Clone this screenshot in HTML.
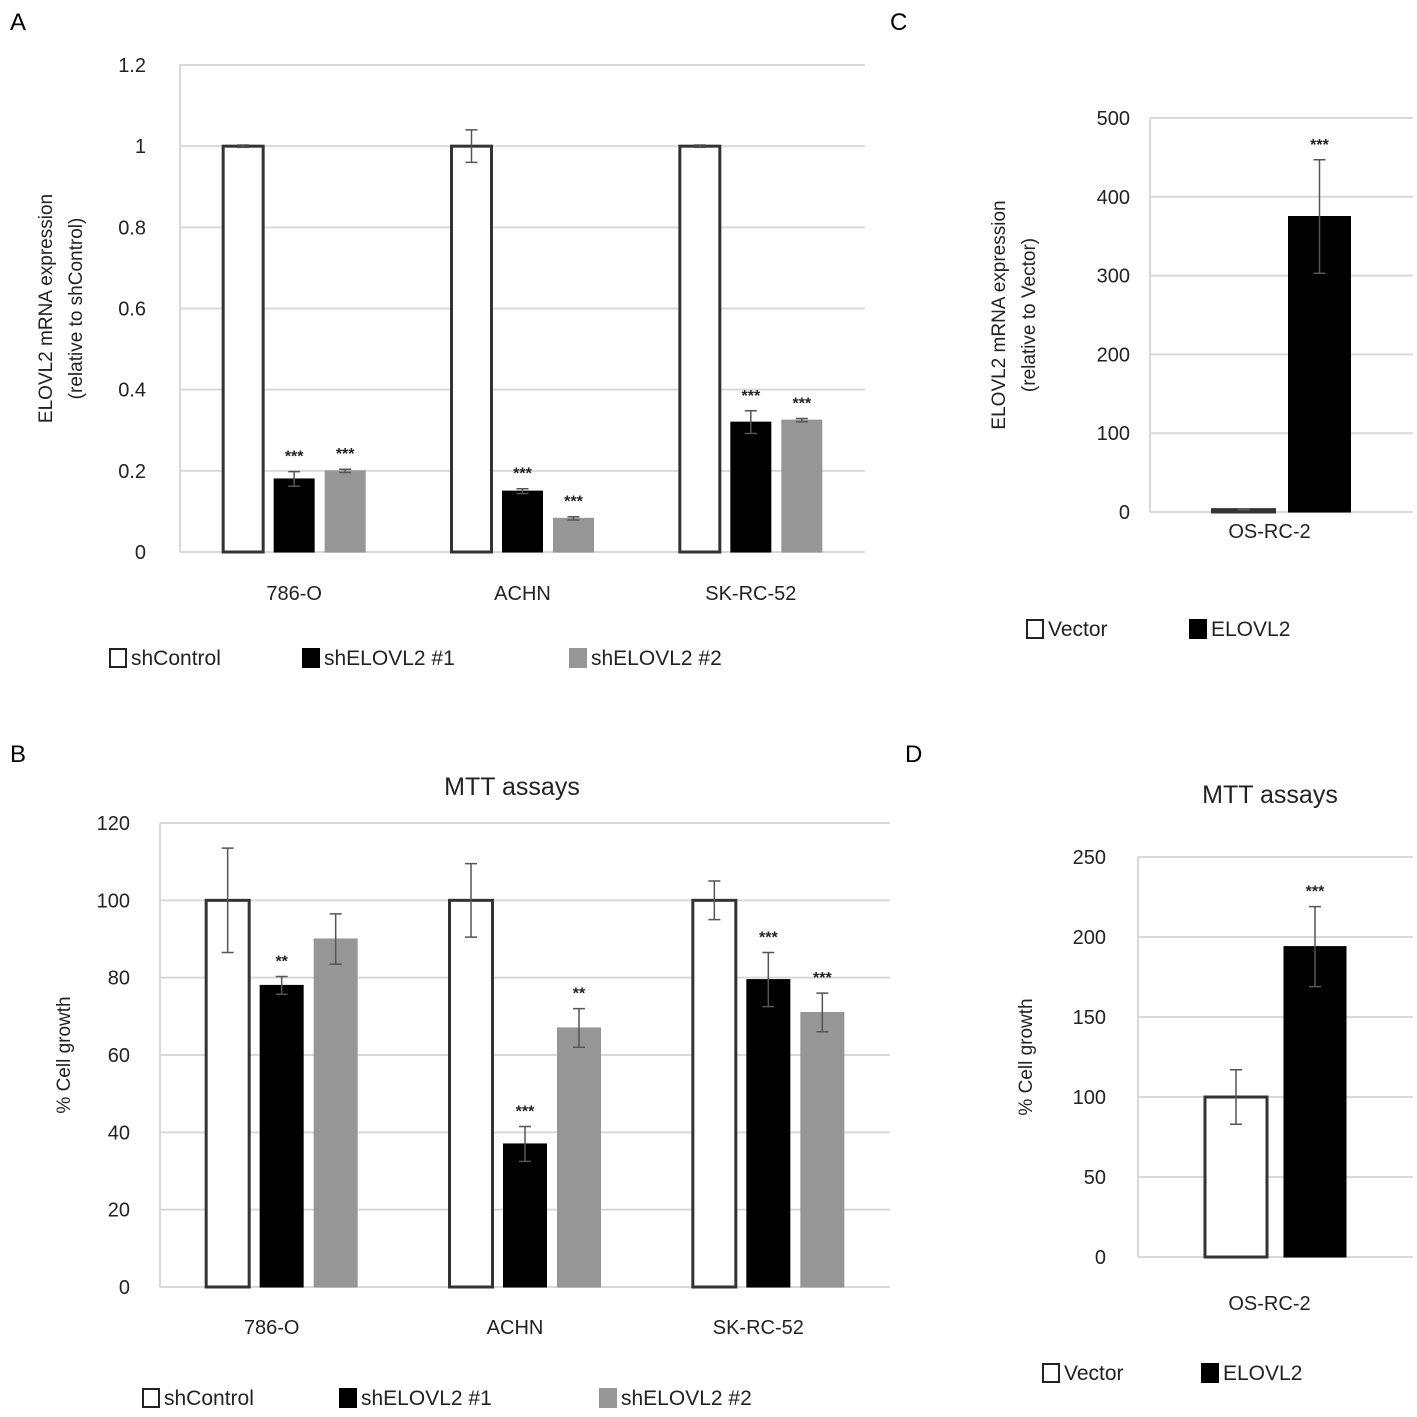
<!DOCTYPE html>
<html><head><meta charset="utf-8"><style>
body{margin:0;background:#fff;}
svg{display:block;font-family:"Liberation Sans",sans-serif;}
</style></head><body>
<svg id="fig" width="1417" height="1417" viewBox="0 0 1417 1417">
<text x="10" y="30" font-size="24">A</text>
<text x="10" y="762" font-size="24">B</text>
<text x="890" y="30" font-size="24">C</text>
<text x="905" y="762" font-size="24">D</text>
</svg>
<script>
// Panel A data
const catsA = ["786-O","ACHN","SK-RC-52"];
const ctrlA = [1,1,1], ctrlAerr=[0.003,0.04,0.003];
const sh1A = [0.18,0.15,0.32], sh1Aerr=[0.018,0.006,0.028];
const sh2A = [0.2,0.083,0.325], sh2Aerr=[0.004,0.004,0.004];
const starsA1=["***","***","***"], starsA2=["***","***","***"];
const ticksA=[0,0.2,0.4,0.6,0.8,1,1.2];
// Panel B data
const catsB = ["786-O","ACHN","SK-RC-52"];
const ctrlB=[100,100,100], ctrlBerr=[13.5,9.5,5];
const sh1B=[78,37,79.5], sh1Berr=[2.3,4.5,7];
const sh2B=[90,67,71], sh2Berr=[6.5,5,5];
const starsB1=["**","***","***"], starsB2=["","**","***"];
const ticksB=[0,20,40,60,80,100,120];
// Panel C data
const catsC=["OS-RC-2"];
const vecC=[3], vecCerr=[0.5];
const eloC=[375], eloCerr=[72];
const ticksC=[0,100,200,300,400,500];
// Panel D data
const catsD=["OS-RC-2"];
const vecD=[100], vecDerr=[17];
const eloD=[194], eloDerr=[25];
const ticksD=[0,50,100,150,200,250];

const NS="http://www.w3.org/2000/svg";
const svg=document.getElementById('fig');
function el(tag,attrs,parent){const e=document.createElementNS(NS,tag);for(const k in attrs)e.setAttribute(k,attrs[k]);(parent||svg).appendChild(e);return e;}

function panel(p){
  const g=el('g',{});
  
  
  const ymax=p.ticks[p.ticks.length-1];
  const Y=v=>p.y0-(v/ymax)*(p.y0-p.y1);
  const catW=(p.x1-p.x0)/p.cats.length;
  p.ticks.forEach(t=>{
    const l=el('line',{x1:p.x0,x2:p.x1,y1:Y(t),y2:Y(t),stroke:'#d9d9d9','stroke-width':2},g);
    
    
    const tx=el('text',{x:p.x0-p.tickGap,y:Y(t)+7,'font-size':20,'text-anchor':'end',fill:'#222'},g);
    tx.textContent=String(t);
    
    
  });
  const ax=el('line',{x1:p.x0,x2:p.x0,y1:p.y1,y2:p.y0,stroke:'#d9d9d9','stroke-width':2},g);
  
  
  p.cats.forEach((c,i)=>{
    const cx=p.x0+catW*(i+0.5);
    const n=p.series.length;
    p.series.forEach((s,j)=>{
      const bx=cx+(j-(n-1)/2)*p.step-p.bw/2;
      const v=s.vals[i], e=s.err[i];
      const r=el('rect',{x:bx,y:Y(v),width:p.bw,height:p.y0-Y(v),fill:s.fill,stroke:s.stroke,'stroke-width':s.fill==='#fff'?3:1},g);
      
      
      const mx=bx+p.bw/2;
      const eb=el('path',{d:`M${mx} ${Y(v+e)}V${Y(v-e)}M${mx-6} ${Y(v+e)}H${mx+6}M${mx-6} ${Y(v-e)}H${mx+6}`,stroke:'#555','stroke-width':1.5,fill:'none'},g);
      
      
      if(s.stars&&s.stars[i]){
        const st=el('text',{x:mx,y:Y(v+e)-10,'font-size':16,'font-weight':'bold','text-anchor':'middle',fill:'#222'},g);
        st.textContent=s.stars[i];
        
        
      }
    });
    const xl=el('text',{x:cx+p.labelDx,y:p.xLabelY,'font-size':20,'text-anchor':'middle',fill:'#222'},g);
    xl.textContent=c;
    
    
  });
  const yl=el('text',{transform:`translate(${p.ylx},${(p.y0+p.y1)/2}) rotate(-90)`,'font-size':19,'text-anchor':'middle',fill:'#222'},g);
  yl.textContent=p.ytitle;
  
  
  if(p.ytitle2){
    const y2=el('text',{transform:`translate(${p.ylx+30},${(p.y0+p.y1)/2}) rotate(-90)`,'font-size':19,'text-anchor':'middle',fill:'#222'},g);
    y2.textContent=p.ytitle2;
    
    
  }
  if(p.title){
    const t=el('text',{x:p.title[1],y:p.title[2],'font-size':25,'text-anchor':'middle',fill:'#222'},g);
    t.textContent=p.title[0];
    
    
  }
  p.series.forEach((s,j)=>{
    const lx=p.legX[j];
    const r=el('rect',{x:lx,y:p.legY-16,width:16,height:18,fill:s.fill,stroke:s.fill==='#fff'?'#222':s.fill,'stroke-width':2},g);
    
    
    const t=el('text',{x:lx+21,y:p.legY,'font-size':21,fill:'#222'},g);
    t.textContent=s.label;
    
    
  });
}

panel({name:'panel-a-chart',x0:180,x1:865,y0:552,y1:65,ticks:ticksA,cats:catsA,bw:40,step:51,tickGap:34,labelDx:0,xLabelY:600,ylx:52,
  ytitle:'ELOVL2 mRNA expression',ytitle2:'(relative to shControl)',legY:665,legX:[110,303,570],
  series:[{key:'shcontrol',label:'shControl',vals:ctrlA,err:ctrlAerr,fill:'#fff',stroke:'#333'},
          {key:'shelovl2-1',label:'shELOVL2 #1',vals:sh1A,err:sh1Aerr,fill:'#000',stroke:'#000',stars:starsA1},
          {key:'shelovl2-2',label:'shELOVL2 #2',vals:sh2A,err:sh2Aerr,fill:'#969696',stroke:'#969696',stars:starsA2}]});
panel({name:'panel-b-chart',x0:160,x1:890,y0:1287,y1:823,ticks:ticksB,cats:catsB,bw:43,step:54,tickGap:30,labelDx:-10,xLabelY:1334,ylx:70,
  ytitle:'% Cell growth',title:['MTT assays',512,795],legY:1405,legX:[143,340,600],
  series:[{key:'shcontrol',label:'shControl',vals:ctrlB,err:ctrlBerr,fill:'#fff',stroke:'#333'},
          {key:'shelovl2-1',label:'shELOVL2 #1',vals:sh1B,err:sh1Berr,fill:'#000',stroke:'#000',stars:starsB1},
          {key:'shelovl2-2',label:'shELOVL2 #2',vals:sh2B,err:sh2Berr,fill:'#969696',stroke:'#969696',stars:starsB2}]});
panel({name:'panel-c-chart',x0:1150,x1:1413,y0:512,y1:118,ticks:ticksC,cats:catsC,bw:62,step:76,tickGap:20,labelDx:-12,xLabelY:538,ylx:1005,
  ytitle:'ELOVL2 mRNA expression',ytitle2:'(relative to Vector)',legY:636,legX:[1027,1190],
  series:[{key:'vector',label:'Vector',vals:vecC,err:vecCerr,fill:'#fff',stroke:'#333'},
          {key:'elovl2',label:'ELOVL2',vals:eloC,err:eloCerr,fill:'#000',stroke:'#000',stars:['***']}]});
panel({name:'panel-d-chart',x0:1138,x1:1413,y0:1257,y1:857,ticks:ticksD,cats:catsD,bw:62,step:79,tickGap:32,labelDx:-6,xLabelY:1310,ylx:1032,
  ytitle:'% Cell growth',title:['MTT assays',1270,803],legY:1380,legX:[1043,1202],
  series:[{key:'vector',label:'Vector',vals:vecD,err:vecDerr,fill:'#fff',stroke:'#333'},
          {key:'elovl2',label:'ELOVL2',vals:eloD,err:eloDerr,fill:'#000',stroke:'#000',stars:['***']}]});
</script>
</body></html>
